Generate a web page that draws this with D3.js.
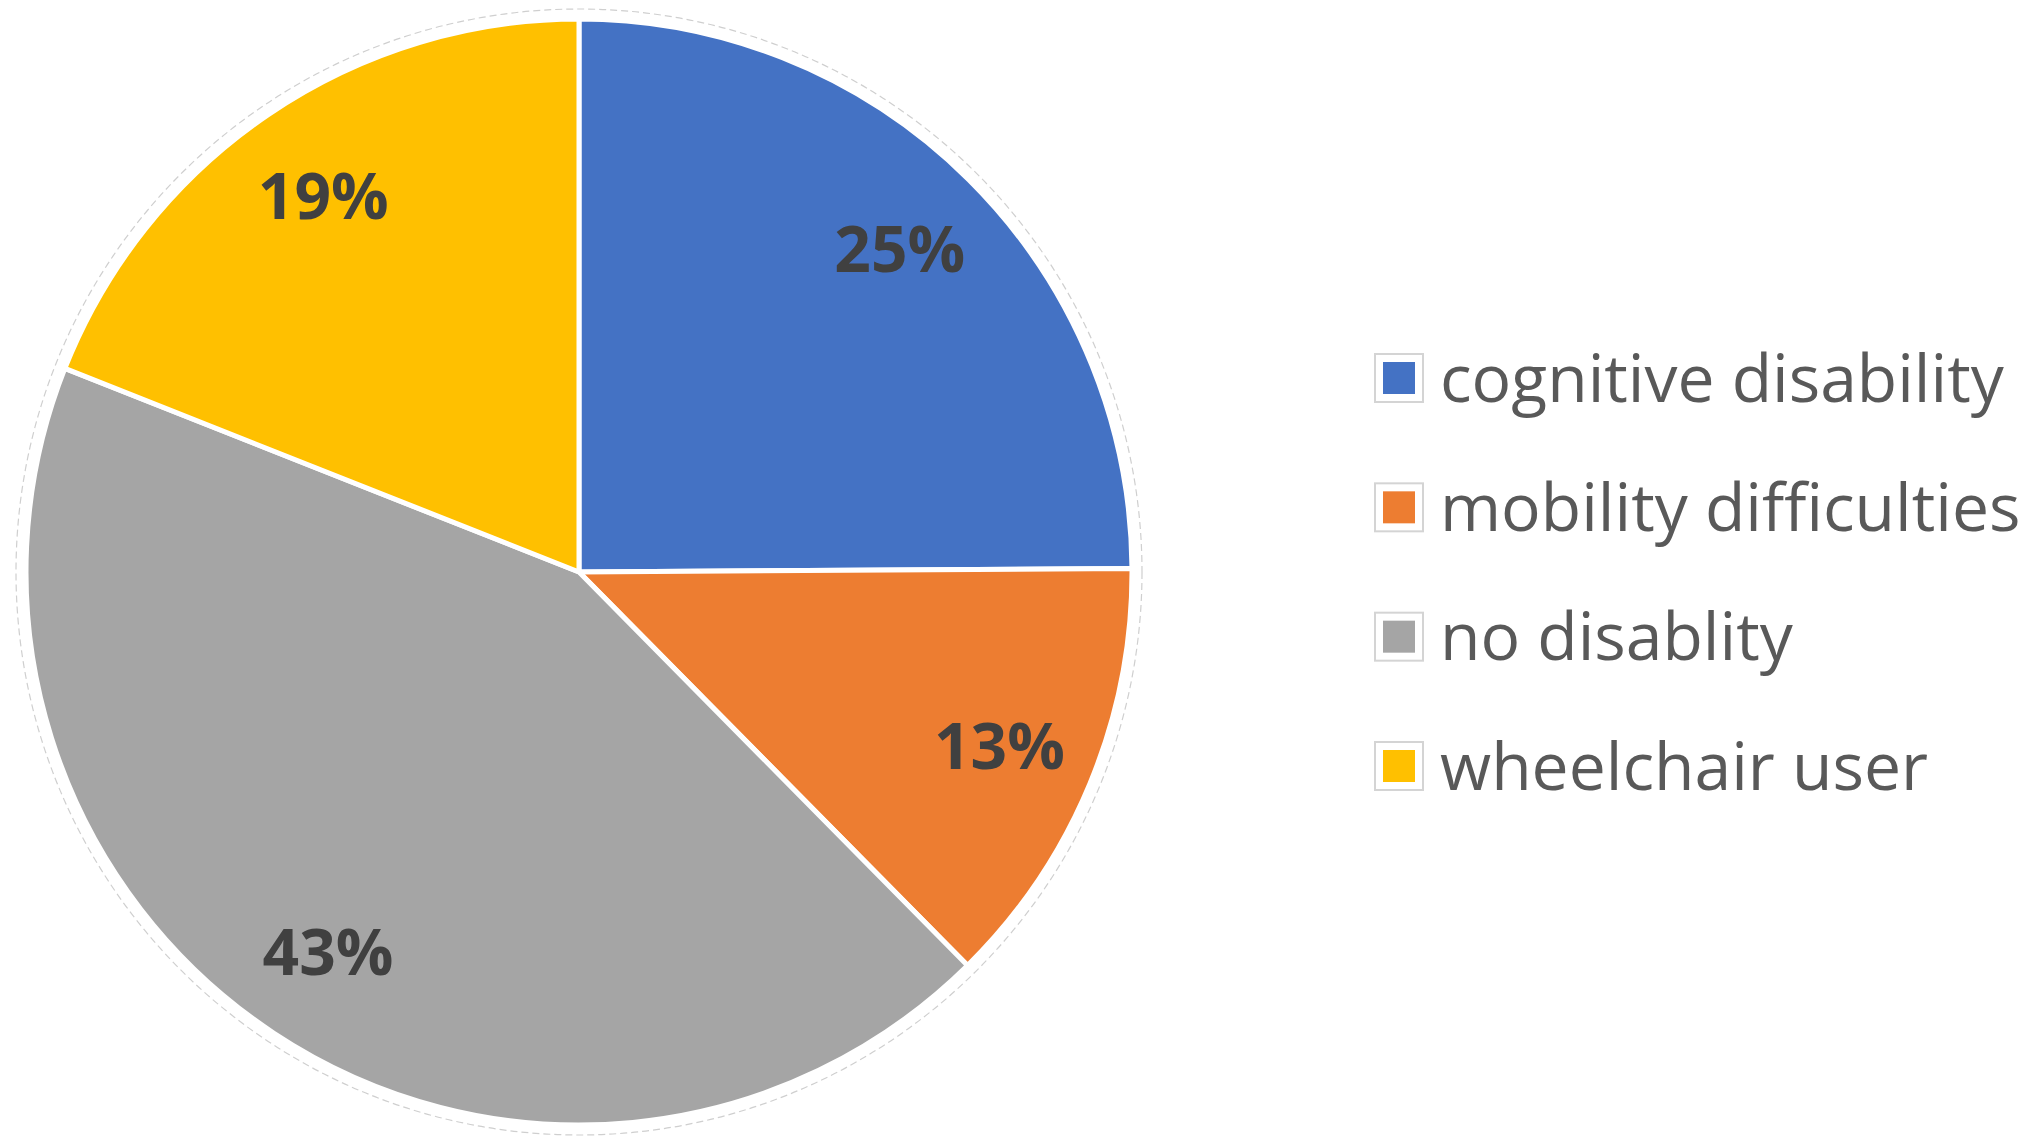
<!DOCTYPE html>
<html>
<head>
<meta charset="utf-8">
<script src="https://cdn.jsdelivr.net/npm/d3@7"></script>
<style>
  html, body { margin: 0; padding: 0; background: #ffffff; }
  svg { display: block; }
</style>
</head>
<body>
<svg id="chart" width="2043" height="1143"></svg>
<script>
const categories = ["cognitive disability", "mobility difficulties", "no disablity", "wheelchair user"];
const values = [24.9, 12.7, 43.4, 19.0];
const colors = ["#4472C4", "#ED7D31", "#A5A5A5", "#FFC000"];

const W = 2043, H = 1143;
const cx = 579, cy = 572, R = 553, labelR = 455;

const svg = d3.select("#chart");
const total = d3.sum(values);
const fmt = d3.format(".0%");
const data = categories.map((c, i) => ({ name: c, value: values[i], label: fmt(values[i] / total), color: colors[i] }));

const pie = d3.pie().value(d => d.value).sort(null);
const arcs = pie(data);
const arc = d3.arc().innerRadius(0).outerRadius(R);
const labelArc = d3.arc().innerRadius(labelR).outerRadius(labelR);

const g = svg.append("g").attr("transform", `translate(${cx},${cy})`);

// faint outer outline
g.append("circle")
  .attr("r", R + 10)
  .attr("fill", "none")
  .attr("stroke", "#cfcfcf")
  .attr("stroke-width", 1.2)
  .attr("stroke-dasharray", "7,4");

g.selectAll("path.slice")
  .data(arcs)
  .enter().append("path")
  .attr("class", "slice")
  .attr("d", arc)
  .attr("fill", d => d.data.color)
  .attr("stroke", "#ffffff")
  .attr("stroke-width", 5)
  .attr("stroke-linejoin", "round");

g.selectAll("text.lbl")
  .data(arcs)
  .enter().append("text")
  .attr("class", "lbl")
  .attr("transform", d => `translate(${labelArc.centroid(d)})`)
  .attr("text-anchor", "middle")
  .attr("dy", "0.36em")
  .attr("font-family", "'Open Sans', sans-serif")
  .attr("font-weight", 700)
  .attr("font-size", 64)
  .attr("fill", "#404040")
  .text(d => d.data.label);

// legend
const legendY = d3.scalePoint().domain(categories).range([378, 766]);
const lg = svg.append("g");
const rows = lg.selectAll("g.row").data(data).enter().append("g")
  .attr("class", "row")
  .attr("transform", d => `translate(0,${legendY(d.name)})`);

rows.append("rect")
  .attr("x", 1375).attr("y", -24)
  .attr("width", 48).attr("height", 48)
  .attr("fill", "#ffffff")
  .attr("stroke", "#d4d4d4")
  .attr("stroke-width", 2);

rows.append("rect")
  .attr("x", 1383).attr("y", -16)
  .attr("width", 32).attr("height", 32)
  .attr("fill", d => d.color);

rows.append("text")
  .attr("x", 1440)
  .attr("y", 0)
  .attr("dy", "0.36em")
  .attr("font-family", "'Open Sans', sans-serif")
  .attr("font-size", 66)
  .attr("fill", "#595959")
  .text(d => d.name);
</script>
</body>
</html>
